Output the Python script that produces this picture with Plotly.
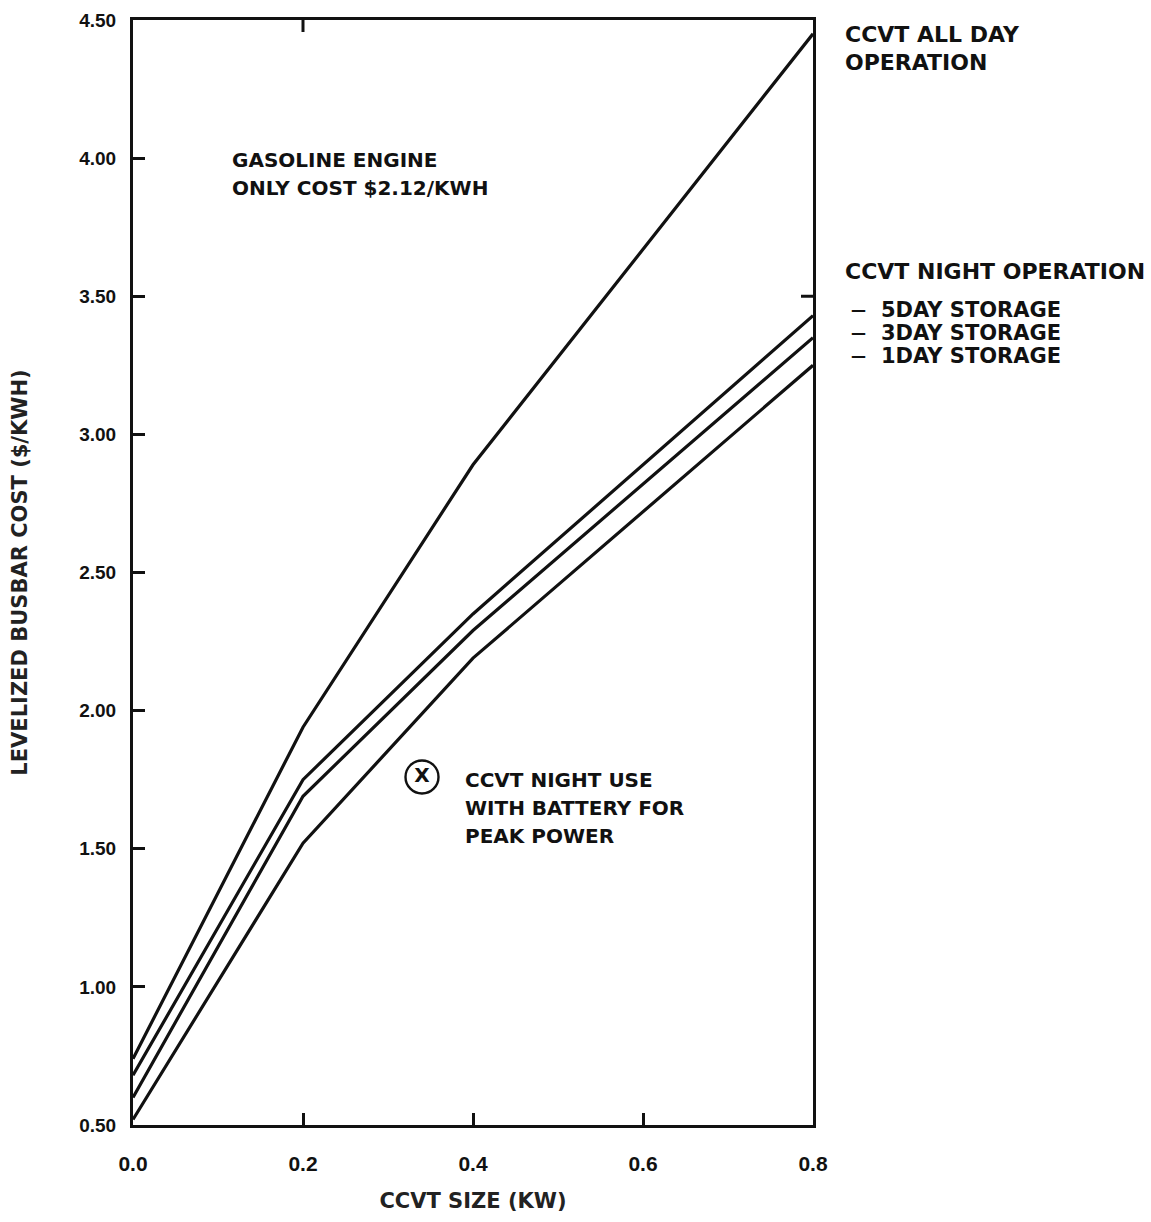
import plotly.graph_objects as go

# CCVT size (kW) at which each cost curve was evaluated
ccvt_size = [0.0, 0.2, 0.4, 0.8]

# Levelized busbar cost ($/kWh) for each operating mode
all_day = [0.74, 1.94, 2.89, 4.45]
night_5day = [0.68, 1.75, 2.35, 3.43]
night_3day = [0.60, 1.69, 2.29, 3.35]
night_1day = [0.52, 1.52, 2.19, 3.25]

# Night use with battery for peak power (single design point)
battery_size = [0.34]
battery_cost = [1.76]

x_ticks = [0.0, 0.2, 0.4, 0.6, 0.8]
x_tick_text = ["0.0", "0.2", "0.4", "0.6", "0.8"]
y_ticks = [0.5, 1.0, 1.5, 2.0, 2.5, 3.0, 3.5, 4.0, 4.5]
y_tick_text = ["0.50", "1.00", "1.50", "2.00", "2.50", "3.00", "3.50", "4.00", "4.50"]

# single ticks that appear on the top and right frame edges
top_tick_x = 0.2
right_tick_y = 3.5

FONT = "DejaVu Sans"
TICK_FONT = "Liberation Sans"
INK = "#111111"

fig = go.Figure()
for series in (all_day, night_5day, night_3day, night_1day):
    fig.add_trace(go.Scatter(
        x=ccvt_size, y=series, mode="lines",
        line=dict(color=INK, width=3.2), showlegend=False, hoverinfo="skip",
    ))

fig.add_trace(go.Scatter(
    x=battery_size, y=battery_cost, mode="markers+text",
    marker=dict(symbol="circle-open", size=33, color=INK, line=dict(width=2.4, color=INK)),
    text=["X"], textposition="middle center",
    textfont=dict(family=FONT, size=20, color=INK, weight="bold"),
    showlegend=False, hoverinfo="skip",
))

axis_common = dict(
    showgrid=False, zeroline=False, showline=True, linecolor=INK, linewidth=3,
    mirror=True, ticks="inside", tickcolor=INK, tickwidth=3, ticklen=12,
    automargin=False,
)

fig.update_xaxes(
    range=[0, 0.8], tickvals=x_ticks, ticktext=x_tick_text,
    ticklabelstandoff=18,
    tickfont=dict(family=TICK_FONT, size=21, color=INK, weight="bold"),
    title=dict(text="CCVT SIZE (KW)", standoff=20,
               font=dict(family=FONT, size=21, color="#222222", weight="bold")),
    **axis_common,
)
fig.update_yaxes(
    range=[0.5, 4.5], tickvals=y_ticks, ticktext=y_tick_text,
    ticklabelstandoff=10,
    tickfont=dict(family=TICK_FONT, size=19, color=INK, weight="bold"),
    title=dict(text="LEVELIZED BUSBAR COST ($/KWH)", standoff=46,
               font=dict(family=FONT, size=21, color="#222222", weight="bold")),
    **axis_common,
)

# mirrored frame ticks
fig.add_shape(type="line", xref="x", yref="paper", x0=top_tick_x, x1=top_tick_x,
              y0=1, y1=1 - 12 / 1105, line=dict(color=INK, width=3))
fig.add_shape(type="line", xref="paper", yref="y", x0=1, x1=1 - 12 / 680,
              y0=right_tick_y, y1=right_tick_y, line=dict(color=INK, width=3))


def label(text, x, ypx, size=20):
    # x in paper fraction of the plot width, ypx as a pixel offset from the plot top
    fig.add_annotation(
        text=text, x=x, y=1 - (ypx - 20) / 1105, xref="paper", yref="paper",
        xanchor="left", yanchor="middle", showarrow=False, align="left",
        font=dict(family=FONT, size=size, color=INK, weight="bold"),
    )


def px(xpix):
    return (xpix - 133) / 680


label("GASOLINE ENGINE", px(230), 160)
label("ONLY COST $2.12/KWH", px(230), 188)
label("CCVT ALL DAY", px(843), 35, 22)
label("OPERATION", px(843), 63, 22)
label("CCVT NIGHT OPERATION", px(843), 271, 22)
for i, days in enumerate(("5DAY", "3DAY", "1DAY")):
    label("—", px(849), 310 + 23 * i, 15)
    label(days + " STORAGE", px(879), 310 + 23 * i, 21)
label("CCVT NIGHT USE", px(463), 780)
label("WITH BATTERY FOR", px(463), 808)
label("PEAK POWER", px(463), 836)

fig.update_layout(
    width=1151, height=1222,
    margin=dict(l=133, r=338, t=20, b=97),
    paper_bgcolor="white", plot_bgcolor="white",
    font=dict(family=FONT, color=INK),
)

fig.write_html("out.html")
